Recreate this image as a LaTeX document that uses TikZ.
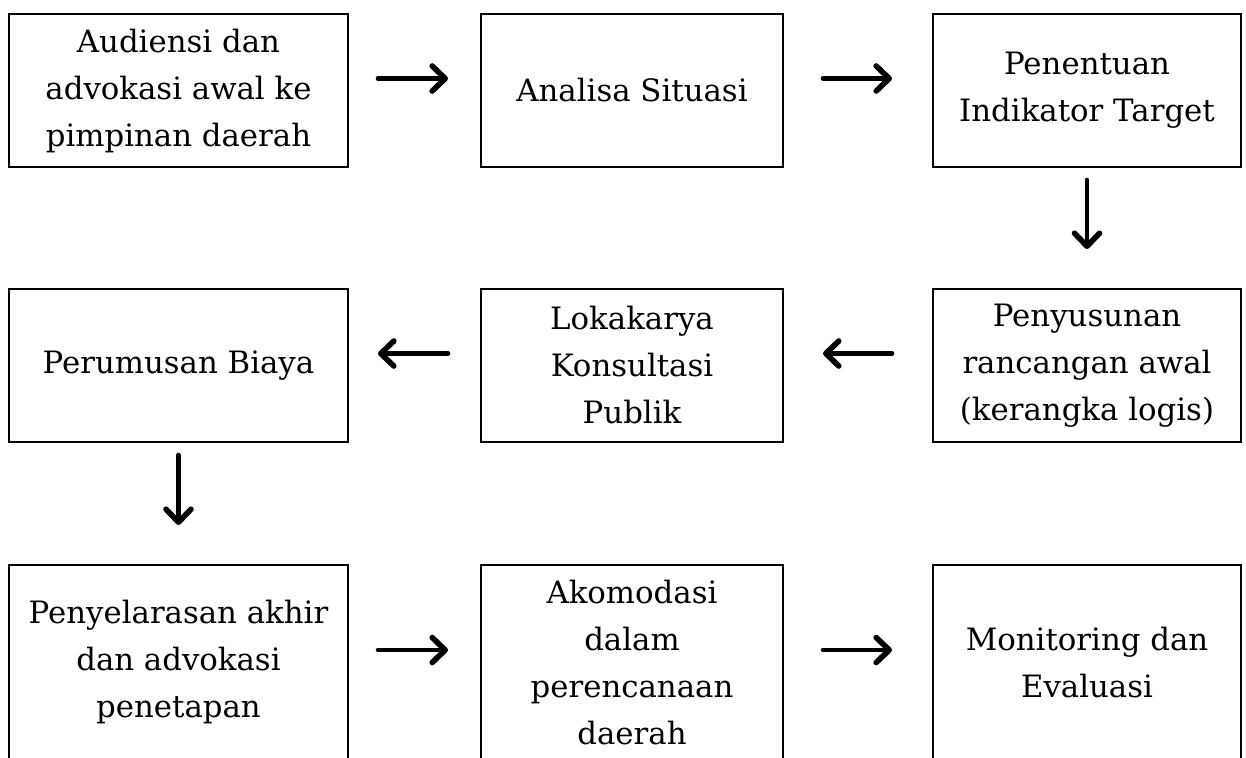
\documentclass[tikz,border=0pt]{standalone}
\usepackage{fontspec}
\setmainfont{DejaVu Serif}
\usetikzlibrary{arrows.meta}
\tikzset{
  boxnode/.style={draw=black, line width=0.8pt, rectangle, inner sep=0pt, outer sep=0pt,
    align=center, font=\fontsize{15.4}{23.5}\selectfont, text=black},
  wA/.style={minimum width=169.5pt},
  wB/.style={minimum width=151pt},
  wC/.style={minimum width=154pt},
  hN/.style={minimum height=76.5pt},
  hT/.style={minimum height=97pt},
  arr/.style={line width=2.3pt, line cap=round, -{Straight Barb[length=6.5pt,width=12.5pt,line width=2.8pt,round]}}
}
\begin{document}
\begin{tikzpicture}[x=0.5pt,y=-0.5pt]
\useasboundingbox (0,0) rectangle (1246,757);
\begin{scope}
\clip (0,0) rectangle (1246,757);
\node[boxnode,wA,hN] (a1) at (178.5,90.5) {Audiensi dan\\advokasi awal ke\\pimpinan daerah};
\node[boxnode,wB,hN] (a2) at (632,90.5) {Analisa Situasi};
\node[boxnode,wC,hN] (a3) at (1087,90.5) {Penentuan\\Indikator Target};
\node[boxnode,wA,hN] (b1) at (178.5,365.5) {Perumusan Biaya};
\node[boxnode,wB,hN] (b2) at (632,365.5) {Lokakarya\\Konsultasi\\Publik};
\node[boxnode,wC,hN] (b3) at (1087,365.5) {Penyusunan\\rancangan awal\\(kerangka logis)};
\node[boxnode,wA,hT] (c1) at (178.5,662) {Penyelarasan akhir\\dan advokasi\\penetapan};
\node[boxnode,wB,hT] (c2) at (632,662) {Akomodasi\\dalam\\perencanaan\\daerah};
\node[boxnode,wC,hT] (c3) at (1087,662) {Monitoring dan\\Evaluasi};
\end{scope}
% row 1
\draw[arr] ([shift={(30,-12)}]a1.east) -- ([shift={(-33,-12)}]a2.west);
\draw[arr] ([shift={(40,-12)}]a2.east) -- ([shift={(-41,-12)}]a3.west);
% down right
\draw[arr] ([yshift=-6.5pt]a3.south) -- ([yshift=20pt]b3.north);
% row 2 (leftwards)
\draw[arr] ([shift={(-41,-12)}]b3.west) -- ([shift={(40,-12)}]b2.east);
\draw[arr] ([shift={(-33,-12)}]b2.west) -- ([shift={(30,-12)}]b1.east);
% down left
\draw[arr] ([yshift=-6.5pt]b1.south) -- ([yshift=20pt]c1.north);
% row 3
\draw[arr] ([shift={(30,-12)}]c1.east) -- ([shift={(-33,-12)}]c2.west);
\draw[arr] ([shift={(40,-12)}]c2.east) -- ([shift={(-41,-12)}]c3.west);
\end{tikzpicture}
\end{document}
